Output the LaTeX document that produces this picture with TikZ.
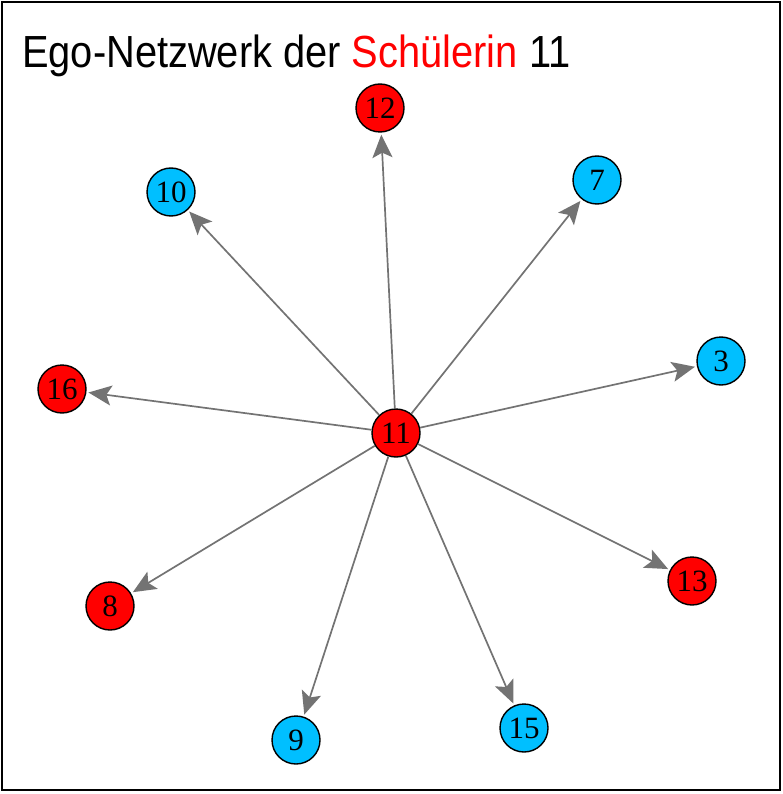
\documentclass[tikz,border=0pt]{standalone}
\usepackage{fontspec}
\setmainfont{Liberation Serif}
\newfontfamily\titlefont{Liberation Sans}
\usetikzlibrary{arrows.meta}
\definecolor{egored}{RGB}{255,0,0}
\definecolor{egoblue}{RGB}{0,191,255}
\definecolor{edgegray}{RGB}{115,115,115}
\begin{document}
\begin{tikzpicture}[x=1pt,y=-1pt,
  vertex/.style={circle,draw=black,line width=1.4pt,minimum size=48pt,inner sep=0pt,
    font=\fontsize{31}{31}\selectfont},
  girl/.style={vertex,fill=egored},
  boy/.style={vertex,fill=egoblue},
  tie/.style={draw=edgegray,line width=1.7pt,shorten >=2pt,
    -{Stealth[length=23pt,width=20pt,inset=5pt,fill=edgegray]}}]
\useasboundingbox (0,0) rectangle (782,794);
% frame
\draw[line width=2pt] (2,2) rectangle (780,790);
% title
\node[anchor=base west,inner sep=0pt] (title) at (22,68)
  {\scalebox{0.885}[1]{\titlefont\fontsize{45}{45}\selectfont Ego-Netzwerk der \textcolor{egored}{Schülerin} 11}};
% vertices
\node[girl] (n11) at (396,433) {11};
\node[girl] (n12) at (380,108) {12};
\node[boy]  (n10) at (171,192) {10};
\node[boy]  (n7)  at (597,180) {7};
\node[boy]  (n3)  at (721,361) {3};
\node[girl] (n16) at (62,389)  {16};
\node[girl] (n8)  at (110,606) {8};
\node[girl] (n13) at (692,581) {13};
\node[boy]  (n9)  at (296,740) {9};
\node[boy]  (n15) at (524,728) {15};
% outgoing ties of the ego
\foreach \t in {n12,n10,n7,n3,n16,n8,n13,n9,n15}
  \draw[tie] (n11) -- (\t);
\end{tikzpicture}
\end{document}
